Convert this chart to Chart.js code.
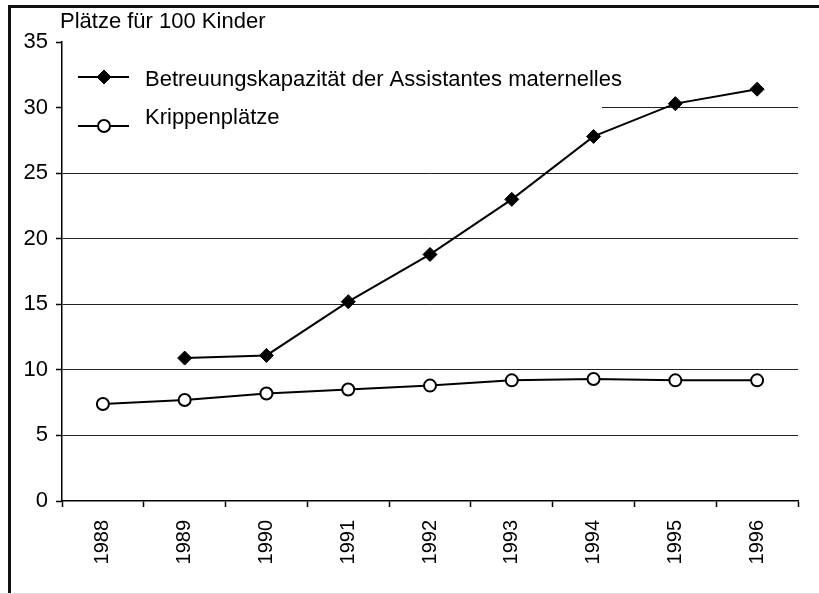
<!DOCTYPE html>
<html><head><meta charset="utf-8">
<script src="https://cdn.jsdelivr.net/npm/chart.js@4/dist/chart.umd.min.js"></script>
<style>
html,body{margin:0;padding:0;background:#fff;}
#wrap{position:relative;width:819px;height:594px;overflow:hidden;}
#frame{position:absolute;left:8px;top:5px;width:830px;height:600px;border-top:3px solid #111;border-left:3px solid #111;}
#bot{position:absolute;left:0;top:593px;width:819px;height:1px;background:#e2e2e2;}
canvas{position:absolute;left:0;top:0;}
</style></head><body>
<div id="wrap"><div id="frame"></div><div id="bot"></div><canvas id="c" width="819" height="594"></canvas></div>
<script>
// ---- data ----
const years = ['1988','1989','1990','1991','1992','1993','1994','1995','1996'];
const assistantesMaternelles = [null, 10.9, 11.1, 15.2, 18.8, 23.0, 27.8, 30.3, 31.4];
const krippenplaetze = [7.4, 7.7, 8.2, 8.5, 8.8, 9.2, 9.3, 9.2, 9.2];
const yTicks = [0, 5, 10, 15, 20, 25, 30, 35];
const seriesLabels = ['Betreuungskapazität der Assistantes maternelles', 'Krippenplätze'];
const yAxisTitle = 'Plätze für 100 Kinder';

const FONT = 'Liberation Sans, Arial, sans-serif';

const insideLegend = {
  id: 'insideLegend',
  beforeDatasetsDraw(chart) {
    const ctx = chart.ctx, a = chart.chartArea;
    ctx.save();
    ctx.fillStyle = '#fff';
    ctx.fillRect(a.left + 1, 60, 539, 74);
    const lineY = [77, 126], textY = [80, 118];
    chart.data.datasets.forEach((ds, i) => {
      ctx.strokeStyle = '#000';
      ctx.lineWidth = 2;
      ctx.beginPath();
      ctx.moveTo(78, lineY[i]); ctx.lineTo(129, lineY[i]); ctx.stroke();
      const cx = 104, cy = lineY[i];
      if (ds.pointStyle === 'rectRot') {
        const r = ds.pointRadius;
        ctx.fillStyle = '#000';
        ctx.lineWidth = 1;
        ctx.beginPath();
        ctx.moveTo(cx - r, cy); ctx.lineTo(cx, cy - r); ctx.lineTo(cx + r, cy); ctx.lineTo(cx, cy + r);
        ctx.closePath(); ctx.fill(); ctx.stroke();
      } else {
        ctx.fillStyle = '#fff';
        ctx.lineWidth = 2;
        ctx.beginPath(); ctx.arc(cx, cy, ds.pointRadius, 0, Math.PI * 2);
        ctx.fill(); ctx.stroke();
      }
      ctx.fillStyle = '#000';
      ctx.font = '22px ' + FONT;
      ctx.textBaseline = 'middle';
      ctx.textAlign = 'left';
      ctx.fillText(ds.label, 145, textY[i]);
    });
    ctx.restore();
  },
  afterDraw(chart) {
    const ctx = chart.ctx;
    ctx.save();
    ctx.fillStyle = '#000';
    ctx.font = '22px ' + FONT;
    ctx.textBaseline = 'middle';
    ctx.textAlign = 'left';
    ctx.fillText(yAxisTitle, 60, 22);
    ctx.restore();
  }
};

new Chart(document.getElementById('c'), {
  type: 'line',
  data: {
    labels: years,
    datasets: [
      {
        label: seriesLabels[0],
        data: assistantesMaternelles,
        borderColor: '#000', borderWidth: 2,
        pointStyle: 'rectRot', pointRadius: 7,
        pointBackgroundColor: '#000', pointBorderColor: '#000', pointBorderWidth: 1,
        tension: 0, fill: false
      },
      {
        label: seriesLabels[1],
        data: krippenplaetze,
        borderColor: '#000', borderWidth: 2,
        pointStyle: 'circle', pointRadius: 6,
        pointBackgroundColor: '#fff', pointBorderColor: '#000', pointBorderWidth: 2,
        tension: 0, fill: false
      }
    ]
  },
  options: {
    responsive: false,
    animation: false,
    devicePixelRatio: 1,
    layout: { padding: { top: 42, right: 21, left: 0, bottom: 0 } },
    plugins: { legend: { display: false }, tooltip: { enabled: false }, title: { display: false } },
    scales: {
      x: {
        type: 'category',
        offset: true,
        grid: { offset: true, drawOnChartArea: false, drawTicks: true, tickLength: 6, tickColor: '#000', tickWidth: 1.5 },
        border: { color: '#000', width: 1.5 },
        ticks: { minRotation: 90, maxRotation: 90, autoSkip: false, padding: 13, color: '#000', font: { family: FONT, size: 20 } },
        afterFit(s) { s.height = 93; }
      },
      y: {
        min: 0, max: 35,
        afterBuildTicks(s) { s.ticks = yTicks.map(v => ({ value: v })); },
        grid: {
          color: c => (c.tick && c.tick.value > 0 && c.tick.value < 35) ? '#222' : 'rgba(0,0,0,0)',
          tickColor: '#000', tickLength: 6, lineWidth: 1, tickWidth: 1.5
        },
        border: { color: '#000', width: 1.5 },
        ticks: { padding: 8, color: '#000', font: { family: FONT, size: 22 } },
        afterFit(s) { s.width = 62; }
      }
    }
  },
  plugins: [insideLegend]
});
</script>
</body></html>
